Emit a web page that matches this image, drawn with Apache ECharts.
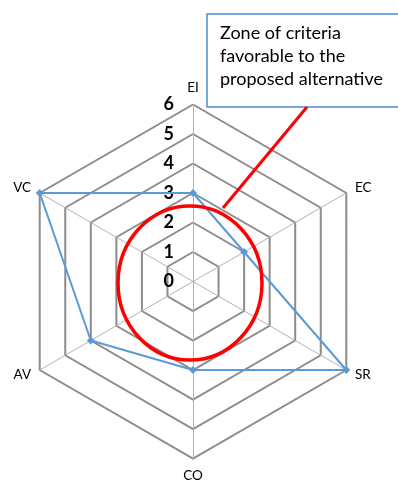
<!DOCTYPE html>
<html>
<head>
<meta charset="utf-8">
<script src="https://cdn.jsdelivr.net/npm/echarts@6/dist/echarts.min.js"></script>
<style>
html,body{margin:0;padding:0;background:#fff;}
#chart{width:398px;height:487px;}
</style>
</head>
<body>
<div id="chart"></div>
<script>
// Criteria listed counter-clockwise starting from the top (ECharts radar order)
const criteria = ['EI', 'VC', 'AV', 'CO', 'SR', 'EC'];
const scores   = [3, 6, 4, 3, 6, 2];
const axisMax = 6;
const axisSplits = 6;
const noteLines = ['Zone of criteria', 'favorable to the', 'proposed alternative'];

const FONT = 'Lato, "Open Sans", sans-serif';

const chart = echarts.init(document.getElementById('chart'), null, {renderer: 'canvas'});

const indicator = criteria.map((name, i) => {
  const ind = {name: name, min: 0, max: axisMax};
  if (i === 0) {
    ind.axisLabel = {
      show: true,
      color: '#000',
      fontFamily: FONT,
      fontWeight: 'bold',
      fontSize: 18,
      margin: 19
    };
  }
  return ind;
});

chart.setOption({
  animation: false,
  backgroundColor: '#fff',
  radar: {
    center: [193, 281.5],
    radius: 177,
    startAngle: 90,
    shape: 'polygon',
    splitNumber: axisSplits,
    indicator: indicator,
    axisName: {color: '#000', fontFamily: FONT, fontSize: 13.5},
    nameGap: 10,
    axisLabel: {show: false},
    axisTick: {show: false},
    axisLine: {lineStyle: {color: '#b3b3b3', width: 1}},
    splitLine: {lineStyle: {color: '#8c8c8c', width: 2}},
    splitArea: {show: false}
  },
  series: [{
    type: 'radar',
    symbol: 'diamond',
    symbolSize: 8,
    lineStyle: {color: '#5b9bd5', width: 2},
    itemStyle: {color: '#5b9bd5'},
    data: [{value: scores}]
  }],
  graphic: [
    {type: 'rect', z: 100, shape: {x: 207, y: 14, width: 260, height: 93},
     style: {fill: '#fff', stroke: '#4a8fd1', lineWidth: 1.5}},
    {type: 'text', z: 101, x: 220, y: 22,
     style: {text: noteLines.join('\n'), fill: '#000', font: '18px ' + FONT, lineHeight: 23}},
    {type: 'line', z: 100, shape: {x1: 223, y1: 208, x2: 307, y2: 107},
     style: {stroke: '#ff0000', lineWidth: 3}},
    {type: 'ellipse', z: 100, shape: {cx: 190, cy: 283, rx: 72, ry: 77},
     style: {fill: 'none', stroke: '#ff0000', lineWidth: 3.5}}
  ]
});
</script>
</body>
</html>
